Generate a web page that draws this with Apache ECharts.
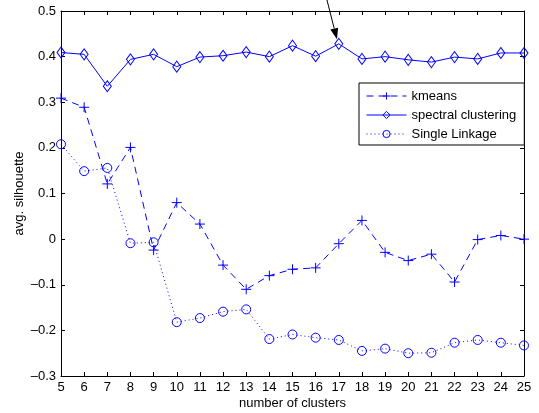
<!DOCTYPE html>
<html>
<head>
<meta charset="utf-8">
<script src="https://cdn.jsdelivr.net/npm/echarts@6/dist/echarts.min.js"></script>
<style>html,body{margin:0;padding:0;background:#fff}#c{width:539px;height:413px}</style>
</head>
<body>
<div id="c"></div>
<script>
var clusters = [5,6,7,8,9,10,11,12,13,14,15,16,17,18,19,20,21,22,23,24,25];
var kmeans = [0.309,0.289,0.121,0.201,-0.024,0.080,0.033,-0.057,-0.110,-0.080,-0.066,-0.063,-0.010,0.041,-0.029,-0.047,-0.033,-0.094,-0.001,0.008,0.000];
var spectral = [0.409,0.405,0.335,0.394,0.405,0.378,0.399,0.402,0.410,0.400,0.424,0.401,0.428,0.395,0.400,0.393,0.388,0.399,0.395,0.408,0.408];
var single = [0.208,0.149,0.156,-0.009,-0.007,-0.182,-0.173,-0.159,-0.154,-0.219,-0.209,-0.216,-0.221,-0.245,-0.240,-0.250,-0.249,-0.227,-0.221,-0.227,-0.233];
var seriesNames = ['kmeans','spectral clustering','Single Linkage'];
var arrowFrom = [16.48, 0.526];
var arrowTo = [16.92, 0.438];

function pairs(vals){ return clusters.map(function(c,i){ return [c, vals[i]]; }); }
var BLUE = '#0000ff';
var FONT = 'Liberation Sans, Arial, Helvetica, sans-serif';
var plusPath = 'path://M0,-5 L0,5 M-5,0 L5,0';
var diamondPath = 'path://M0,-5 L3.5,0 L0,5 L-3.5,0 Z';
var circlePath = 'path://M4,0 A4,4 0 1 1 -4,0 A4,4 0 1 1 4,0 Z';

function yFmt(v){ if (Math.abs(v) < 1e-9) return '0'; return v.toFixed(1).replace('-', '\u2013'); }

var chart = echarts.init(document.getElementById('c'), null, {renderer:'canvas'});
var axisCommon = {
  type: 'value',
  axisLine: {show: true, onZero: false, lineStyle: {color: '#000', width: 1}},
  axisTick: {show: true, inside: true, length: 4, lineStyle: {color: '#000'}},
  splitLine: {show: false}
};
chart.setOption({
  animation: false,
  textStyle: {fontFamily: FONT},
  grid: {left: 61, right: 15, top: 11, bottom: 37, containLabel: false, outerBoundsMode: 'none'},
  xAxis: [
    Object.assign({}, axisCommon, {
      position: 'bottom', min: 5, max: 25, interval: 1,
      name: 'number of clusters', nameLocation: 'middle', nameGap: 21, nameMoveOverlap: false,
      nameTextStyle: {color: '#000', fontSize: 13, fontFamily: FONT},
      axisLabel: {color: '#000', fontSize: 13, margin: 5, fontFamily: FONT}
    }),
    Object.assign({}, axisCommon, {
      position: 'top', min: 5, max: 25, interval: 1,
      axisLabel: {show: false}
    })
  ],
  yAxis: [
    Object.assign({}, axisCommon, {
      position: 'left', min: -0.3, max: 0.5, interval: 0.1,
      name: 'avg. silhouette', nameLocation: 'middle', nameGap: 35, nameMoveOverlap: false,
      nameTextStyle: {color: '#000', fontSize: 13, fontFamily: FONT},
      axisLabel: {color: '#000', fontSize: 13, margin: 5, fontFamily: FONT, formatter: yFmt}
    }),
    Object.assign({}, axisCommon, {
      position: 'right', min: -0.3, max: 0.5, interval: 0.1,
      axisLabel: {show: false}
    })
  ],
  legend: {
    orient: 'vertical', left: 359, top: 83,
    padding: [6, 8, 4, 7], itemGap: 5, itemWidth: 40, itemHeight: 9,
    borderColor: '#000', borderWidth: 1, borderRadius: 0, backgroundColor: '#fff',
    lineStyle: {width: 1},
    itemStyle: {borderWidth: 1},
    textStyle: {color: '#000', fontSize: 13, fontFamily: FONT, lineHeight: 14},
    data: seriesNames
  },
  series: [
    {
      name: seriesNames[0], type: 'line', data: pairs(kmeans),
      symbol: plusPath, symbolSize: 10, showAllSymbol: true,
      lineStyle: {color: BLUE, width: 1, type: [7, 5]},
      itemStyle: {color: 'transparent', borderColor: BLUE, borderWidth: 1},
      emphasis: {disabled: true}
    },
    {
      name: seriesNames[1], type: 'line', data: pairs(spectral),
      symbol: diamondPath, symbolSize: [8, 11], showAllSymbol: true,
      lineStyle: {color: BLUE, width: 1, type: 'solid'},
      itemStyle: {color: 'transparent', borderColor: BLUE, borderWidth: 1},
      emphasis: {disabled: true}
    },
    {
      name: seriesNames[2], type: 'line', data: pairs(single),
      symbol: circlePath, symbolSize: 9, showAllSymbol: true,
      lineStyle: {color: BLUE, width: 1, type: [1, 3]},
      itemStyle: {color: 'transparent', borderColor: BLUE, borderWidth: 1},
      emphasis: {disabled: true}
    }
  ]
});

var p1 = chart.convertToPixel({gridIndex: 0}, arrowFrom);
var p2 = chart.convertToPixel({gridIndex: 0}, arrowTo);
var dx = p2[0]-p1[0], dy = p2[1]-p1[1];
var len = Math.sqrt(dx*dx+dy*dy), ux = dx/len, uy = dy/len;
var headL = 11, headW = 4;
var bx = p2[0]-ux*headL, by = p2[1]-uy*headL;
chart.setOption({
  graphic: [
    {type: 'line', shape: {x1: p1[0], y1: p1[1], x2: bx, y2: by}, style: {stroke: '#000', lineWidth: 1}, z: 100},
    {type: 'polygon', shape: {points: [[p2[0], p2[1]], [bx - uy*headW, by + ux*headW], [bx + uy*headW, by - ux*headW]]}, style: {fill: '#000'}, z: 100}
  ]
});
</script>
</body>
</html>
